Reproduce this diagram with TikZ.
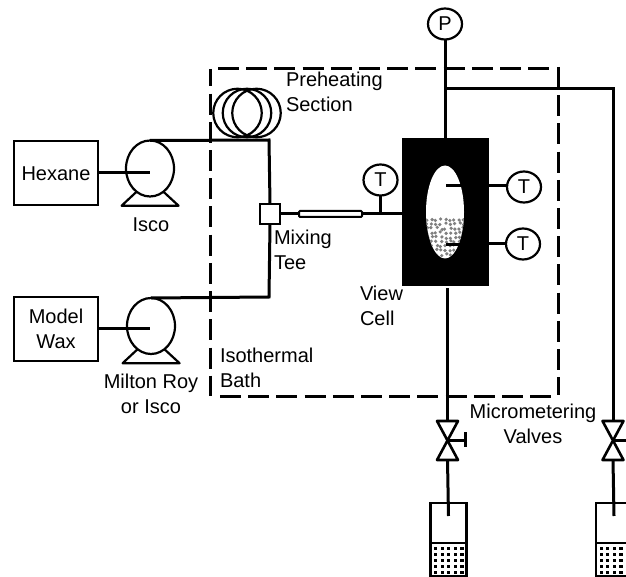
\documentclass[tikz,border=0pt]{standalone}
\usepackage{fontspec}
\setmainfont{Liberation Sans}
\usetikzlibrary{positioning,shapes.geometric}

\begin{document}
\begin{tikzpicture}[
    x=1pt, y=-1pt,
    every node/.style={inner sep=0pt, outer sep=0pt, font=\fontsize{20}{25}\selectfont},
    box/.style={draw, line width=2pt, minimum width=84pt, minimum height=64pt, align=center},
    pump/.style={draw, ellipse, line width=2.2pt, minimum width=48pt, minimum height=56pt},
    gauge/.style={draw, ellipse, fill=white, line width=2.2pt, minimum width=34pt, minimum height=31pt},
    coil/.style={draw, circle, line width=2.2pt, minimum size=48.5pt},
    vial/.style={draw, line width=2.2pt, minimum width=36pt, minimum height=73pt},
    label/.style={align=left},
    line/.style={line width=3pt},
    thinline/.style={line width=2.2pt, line join=round},
    bathline/.style={line width=3pt, dash pattern=on 21pt off 7.2pt}
]
\clip (0,0) rectangle (626,577);
\node (bath) at (384,232.5) [minimum width=348pt, minimum height=327pt] {};
\draw[bathline, dash phase=3.5pt] (bath.north west) -- (bath.south west);
\draw[bathline] ([xshift=8pt]bath.north west) -- ([xshift=-9pt]bath.north east);
\draw[bathline] ([yshift=2pt]bath.north east) -- ([yshift=1pt]bath.south east);
\draw[bathline] ([xshift=10pt]bath.south west) -- ([xshift=-6pt]bath.south east);

\node[box]  (hexane) at (56,173.5)  {Hexane};
\node[box]  (wax)    at (56,328.5)  {Model\\Wax};
\node[pump] (isco)   at (150,168.5) {};
\node[pump] (milton) at (151,326)   {};
\foreach \n in {isco,milton}
    \draw[thinline] (\n.-120) -- ++(-15,14) -- ++(57,0) -- (\n.-60);
\node[anchor=base] (iscolabel) at (151,232) {Isco};
\node[anchor=base, align=center] (miltonlabel) at (151,413) {Milton Roy\\or Isco};

\foreach \n/\x in {1/237.5,2/247,3/256.5}
    \node[coil] (coil\n) at (\x,113) {};
\node[draw, fill=white, line width=2.2pt, minimum width=20pt, minimum height=20pt] (tee) at (270,214) {};
\node[draw, fill=white, line width=2pt, rounded corners=1pt, minimum width=63pt, minimum height=6pt] (tube) at (330.5,214) {};

\node[draw, fill=black, minimum width=86pt, minimum height=147pt] (cell) at (445,211.5) {};
\node[ellipse, fill=white, minimum width=38pt, minimum height=93pt] (window) at (445,212) {};
\begin{scope}
    \clip (445,212) ellipse (19pt and 46.5pt);
    \pgfmathsetseed{11}
    \foreach \i in {0,...,8}
        \foreach \j in {0,...,9}
            \fill[black!50] ({426+4.6*\i+2.4*rnd},{218.5+4.4*\j+2.4*rnd}) circle (1.8pt);
\end{scope}

\node[gauge] (pgauge) at (445,24)    {P};
\node[gauge] (tleft)  at (380.5,180) {T};
\node[gauge] (tup)    at (524,187)   {T};
\node[gauge] (tlow)   at (523,244)   {T};

\coordinate (tap) at (445,89);
\coordinate (probeup) at (446,186);
\coordinate (probelow) at (446,245);

\draw[line] (hexane.east |- 0,173) -- (150,173);
\draw[line] (wax.east |- 0,328) -- (150,328);
\draw[line] (isco.north) -- (269,140) -- (tee.north);
\draw[line] (tee.south) -- (269,297) -- (milton.north);
\draw[line] (tee.east) -- (tube.west);
\draw[line] (tube.east) -- (tube -| cell.west);
\draw[line] (tleft.south) -- (tleft |- tube);
\draw[line] (pgauge.south) -- (pgauge |- cell.north);
\draw[line] (tup.175) -- (tup.175 -| cell.east);
\draw[line] (tlow.west) -- (tlow -| cell.east);
\draw[line] (probeup) -- ++(16,0);
\draw[line] (probelow) -- ++(16,0);

\foreach \n/\x in {a/447.5,b/613} {
    \node[minimum width=21pt, minimum height=39pt] (valve\n) at (\x,440.5) {};
    \draw[thinline, line width=2.6pt] (valve\n.north west) -- (valve\n.north east)
        -- (valve\n.south west) -- (valve\n.south east) -- cycle;
    \node[vial] (vial\n) at (\x+1,539.5) {};
    \coordinate (dip\n) at (\x+1,516);
    \draw[line] (valve\n.south) -- (dip\n);
    \draw[thinline] (vial\n.west |- 0,543) -- (vial\n.east |- 0,543);
    \foreach \i in {0,...,4}
        \foreach \j in {0,...,4}
            \fill ({\x-13.5+6.6*\i},{546.5+6*\j}) rectangle ++(3.2,3.2);
    \draw[thinline, line width=3pt] (vial\n.south west) -- (vial\n.south east);
}
\draw[line] ([yshift=-3pt]valvea.north |- cell.south) -- (valvea.north);
\draw[line] (tap) -| (valveb.north);
\draw[line] (valvea.center) -- ++(18,0);
\draw[line] (465,432) -- (465,447);
\draw[line] (valveb.center) -- ++(14,0);

\node[label, anchor=base west] (preheat) at (286,112) {Preheating\\Section};
\node[label, anchor=base west] (mixing)  at (274,269.5) {Mixing\\Tee};
\node[label, anchor=base west] (view)    at (360,325.5) {View\\Cell};
\node[label, anchor=base west] (bathlabel) at (220,387) {Isothermal\\Bath};
\node[align=center, anchor=base] (micro) at (533,443) {Micrometering\\Valves};
\end{tikzpicture}
\end{document}
